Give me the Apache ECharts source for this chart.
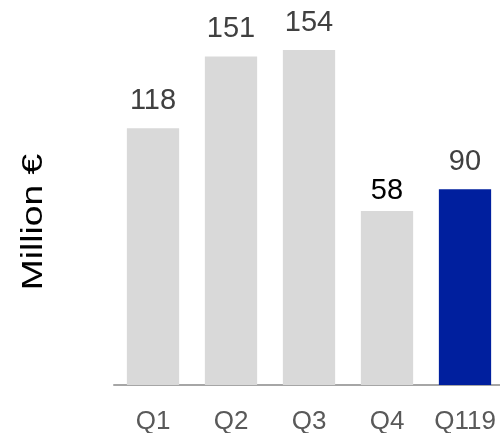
<!DOCTYPE html>
<html>
<head>
<meta charset="utf-8">
<script src="https://cdn.jsdelivr.net/npm/echarts@6/dist/echarts.min.js"></script>
<style>
html,body{margin:0;padding:0;background:#fff;}
#chart{width:500px;height:433px;}
</style>
</head>
<body>
<div id="chart"></div>
<script>
const categories = ['Q1', 'Q2', 'Q3', 'Q4', 'Q119'];
const barValues = [118, 151, 154, 80, 90];
const labelTexts = ['118', '151', '154', '58', '90'];
const axisName = 'Million €';

const chart = echarts.init(document.getElementById('chart'), null, {renderer: 'canvas'});
const FONT = 'Liberation Sans, Arial, sans-serif';

const data = barValues.map((v, i) => {
  const last = i === barValues.length - 1;
  const isQ4 = i === 3;
  return {
    value: v,
    itemStyle: {color: last ? '#001F9E' : '#D9D9D9'},
    label: {
      formatter: labelTexts[i],
      color: isQ4 ? '#000000' : '#404040',
      distance: isQ4 ? 5 : 13
    }
  };
});

chart.setOption({
  animation: false,
  backgroundColor: '#ffffff',
  grid: {left: 114, width: 390, top: 0, bottom: 48, containLabel: false, outerBoundsMode: 'none'},
  xAxis: {
    type: 'category',
    data: categories,
    axisTick: {show: false},
    axisLine: {show: true, lineStyle: {color: '#A6A6A6', width: 2}},
    axisLabel: {color: '#595959', fontSize: 26, fontFamily: FONT, margin: 24, interval: 0, hideOverlap: false}
  },
  yAxis: {
    type: 'value',
    min: 0,
    max: 177,
    show: false,
    splitLine: {show: false}
  },
  graphic: [{
    type: 'text',
    x: 34,
    y: 222,
    rotation: Math.PI / 2,
    scaleX: 1.24,
    style: {
      text: axisName,
      fontSize: 30,
      fontFamily: FONT,
      fill: '#000000',
      align: 'center',
      verticalAlign: 'middle'
    }
  }],
  series: [{
    type: 'bar',
    data: data,
    barCategoryGap: '33%',
    label: {
      show: true,
      position: 'top',
      fontSize: 29,
      fontFamily: FONT
    }
  }]
});
</script>
</body>
</html>
